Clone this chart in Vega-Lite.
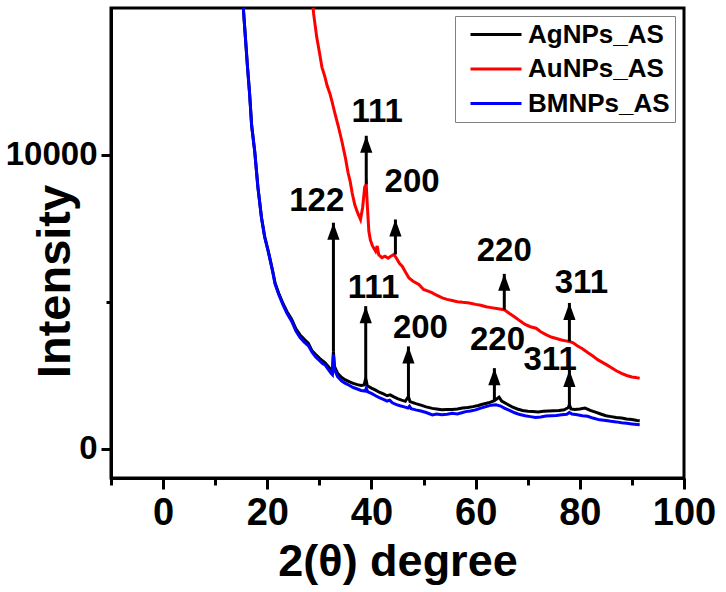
{
  "$schema": "https://vega.github.io/schema/vega-lite/v6.json",
  "description": "XRD patterns of AgNPs_AS, AuNPs_AS and BMNPs_AS with indexed peaks",
  "autosize": {"type": "none"},
  "padding": {"left": 111, "top": 8, "right": 42, "bottom": 114},
  "width": 573,
  "height": 470,
  "background": "white",
  "config": {
    "view": {"stroke": "black", "strokeWidth": 3},
    "axis": {
      "grid": false,
      "domainColor": "black",
      "domainWidth": 3,
      "tickColor": "black",
      "tickWidth": 3,
      "labelFont": "Liberation Sans",
      "labelFontWeight": "bold",
      "labelFontSize": 34,
      "labelColor": "black",
      "titleFont": "Liberation Sans",
      "titleFontWeight": "bold",
      "titleFontSize": 45,
      "titleColor": "black"
    }
  },
  "datasets": {
    "spectra": [
      {"t": 15.0, "I": 16200, "s": "AgNPs_AS"}, {"t": 15.4, "I": 15000, "s": "AgNPs_AS"}, {"t": 15.8, "I": 14000, "s": "AgNPs_AS"},
      {"t": 16.2, "I": 13000, "s": "AgNPs_AS"}, {"t": 16.6, "I": 12100, "s": "AgNPs_AS"}, {"t": 17.0, "I": 11000, "s": "AgNPs_AS"},
      {"t": 17.6, "I": 10100, "s": "AgNPs_AS"}, {"t": 18.2, "I": 8900, "s": "AgNPs_AS"}, {"t": 18.9, "I": 7850, "s": "AgNPs_AS"},
      {"t": 19.5, "I": 7220, "s": "AgNPs_AS"}, {"t": 20.2, "I": 6720, "s": "AgNPs_AS"}, {"t": 21.0, "I": 6080, "s": "AgNPs_AS"},
      {"t": 21.5, "I": 5640, "s": "AgNPs_AS"}, {"t": 22.2, "I": 5290, "s": "AgNPs_AS"}, {"t": 23.0, "I": 4950, "s": "AgNPs_AS"},
      {"t": 23.8, "I": 4660, "s": "AgNPs_AS"}, {"t": 24.7, "I": 4400, "s": "AgNPs_AS"}, {"t": 25.5, "I": 4080, "s": "AgNPs_AS"},
      {"t": 26.3, "I": 3870, "s": "AgNPs_AS"}, {"t": 27.1, "I": 3720, "s": "AgNPs_AS"}, {"t": 27.9, "I": 3580, "s": "AgNPs_AS"},
      {"t": 28.6, "I": 3330, "s": "AgNPs_AS"}, {"t": 29.3, "I": 3200, "s": "AgNPs_AS"}, {"t": 30.0, "I": 3080, "s": "AgNPs_AS"},
      {"t": 30.6, "I": 2990, "s": "AgNPs_AS"}, {"t": 31.1, "I": 2920, "s": "AgNPs_AS"}, {"t": 31.7, "I": 2800, "s": "AgNPs_AS"},
      {"t": 32.3, "I": 2660, "s": "AgNPs_AS"}, {"t": 32.5, "I": 2620, "s": "AgNPs_AS"}, {"t": 32.7, "I": 3310, "s": "AgNPs_AS"},
      {"t": 32.9, "I": 2800, "s": "AgNPs_AS"}, {"t": 33.5, "I": 2560, "s": "AgNPs_AS"}, {"t": 34.3, "I": 2420, "s": "AgNPs_AS"},
      {"t": 35.0, "I": 2340, "s": "AgNPs_AS"}, {"t": 35.8, "I": 2270, "s": "AgNPs_AS"}, {"t": 36.5, "I": 2220, "s": "AgNPs_AS"},
      {"t": 37.3, "I": 2180, "s": "AgNPs_AS"}, {"t": 38.0, "I": 2150, "s": "AgNPs_AS"}, {"t": 38.6, "I": 2170, "s": "AgNPs_AS"},
      {"t": 38.9, "I": 2400, "s": "AgNPs_AS"}, {"t": 39.2, "I": 2140, "s": "AgNPs_AS"}, {"t": 40.0, "I": 2060, "s": "AgNPs_AS"},
      {"t": 40.8, "I": 1990, "s": "AgNPs_AS"}, {"t": 41.5, "I": 1920, "s": "AgNPs_AS"}, {"t": 42.3, "I": 1860, "s": "AgNPs_AS"},
      {"t": 43.0, "I": 1800, "s": "AgNPs_AS"}, {"t": 43.6, "I": 1830, "s": "AgNPs_AS"}, {"t": 44.3, "I": 1760, "s": "AgNPs_AS"},
      {"t": 45.0, "I": 1700, "s": "AgNPs_AS"}, {"t": 45.8, "I": 1650, "s": "AgNPs_AS"}, {"t": 46.5, "I": 1610, "s": "AgNPs_AS"},
      {"t": 47.1, "I": 1775, "s": "AgNPs_AS"}, {"t": 47.4, "I": 1600, "s": "AgNPs_AS"}, {"t": 48.5, "I": 1530, "s": "AgNPs_AS"},
      {"t": 49.5, "I": 1480, "s": "AgNPs_AS"}, {"t": 50.5, "I": 1420, "s": "AgNPs_AS"}, {"t": 51.7, "I": 1370, "s": "AgNPs_AS"},
      {"t": 52.5, "I": 1350, "s": "AgNPs_AS"}, {"t": 53.5, "I": 1320, "s": "AgNPs_AS"}, {"t": 54.5, "I": 1330, "s": "AgNPs_AS"},
      {"t": 55.5, "I": 1330, "s": "AgNPs_AS"}, {"t": 56.5, "I": 1350, "s": "AgNPs_AS"}, {"t": 57.5, "I": 1380, "s": "AgNPs_AS"},
      {"t": 58.5, "I": 1400, "s": "AgNPs_AS"}, {"t": 59.5, "I": 1430, "s": "AgNPs_AS"}, {"t": 60.5, "I": 1470, "s": "AgNPs_AS"},
      {"t": 61.5, "I": 1520, "s": "AgNPs_AS"}, {"t": 62.5, "I": 1560, "s": "AgNPs_AS"}, {"t": 63.6, "I": 1630, "s": "AgNPs_AS"},
      {"t": 64.5, "I": 1750, "s": "AgNPs_AS"}, {"t": 65.0, "I": 1620, "s": "AgNPs_AS"}, {"t": 66.0, "I": 1520, "s": "AgNPs_AS"},
      {"t": 67.0, "I": 1420, "s": "AgNPs_AS"}, {"t": 68.0, "I": 1350, "s": "AgNPs_AS"}, {"t": 69.0, "I": 1300, "s": "AgNPs_AS"},
      {"t": 70.0, "I": 1270, "s": "AgNPs_AS"}, {"t": 71.0, "I": 1260, "s": "AgNPs_AS"}, {"t": 72.0, "I": 1250, "s": "AgNPs_AS"},
      {"t": 73.0, "I": 1270, "s": "AgNPs_AS"}, {"t": 74.0, "I": 1280, "s": "AgNPs_AS"}, {"t": 75.0, "I": 1290, "s": "AgNPs_AS"},
      {"t": 76.0, "I": 1300, "s": "AgNPs_AS"}, {"t": 77.0, "I": 1320, "s": "AgNPs_AS"}, {"t": 77.8, "I": 1400, "s": "AgNPs_AS"},
      {"t": 78.0, "I": 1500, "s": "AgNPs_AS"}, {"t": 78.3, "I": 1350, "s": "AgNPs_AS"}, {"t": 79.0, "I": 1330, "s": "AgNPs_AS"},
      {"t": 80.0, "I": 1350, "s": "AgNPs_AS"}, {"t": 81.0, "I": 1380, "s": "AgNPs_AS"}, {"t": 82.0, "I": 1300, "s": "AgNPs_AS"},
      {"t": 83.0, "I": 1240, "s": "AgNPs_AS"}, {"t": 84.0, "I": 1180, "s": "AgNPs_AS"}, {"t": 85.0, "I": 1120, "s": "AgNPs_AS"},
      {"t": 86.0, "I": 1090, "s": "AgNPs_AS"}, {"t": 87.0, "I": 1060, "s": "AgNPs_AS"}, {"t": 88.0, "I": 1040, "s": "AgNPs_AS"},
      {"t": 89.0, "I": 1010, "s": "AgNPs_AS"}, {"t": 90.0, "I": 990, "s": "AgNPs_AS"}, {"t": 91.0, "I": 960, "s": "AgNPs_AS"},
      {"t": 91.5, "I": 950, "s": "AgNPs_AS"},

      {"t": 28.5, "I": 15600, "s": "AuNPs_AS"}, {"t": 28.9, "I": 14800, "s": "AuNPs_AS"}, {"t": 29.5, "I": 14000, "s": "AuNPs_AS"},
      {"t": 30.0, "I": 13500, "s": "AuNPs_AS"}, {"t": 30.5, "I": 12980, "s": "AuNPs_AS"}, {"t": 31.0, "I": 12700, "s": "AuNPs_AS"},
      {"t": 31.5, "I": 12350, "s": "AuNPs_AS"}, {"t": 32.0, "I": 12100, "s": "AuNPs_AS"}, {"t": 32.4, "I": 11840, "s": "AuNPs_AS"},
      {"t": 33.0, "I": 11400, "s": "AuNPs_AS"}, {"t": 33.6, "I": 11000, "s": "AuNPs_AS"}, {"t": 34.3, "I": 10480, "s": "AuNPs_AS"},
      {"t": 35.0, "I": 9900, "s": "AuNPs_AS"}, {"t": 35.5, "I": 9400, "s": "AuNPs_AS"}, {"t": 35.9, "I": 9110, "s": "AuNPs_AS"},
      {"t": 36.3, "I": 8700, "s": "AuNPs_AS"}, {"t": 36.8, "I": 8300, "s": "AuNPs_AS"}, {"t": 37.3, "I": 8050, "s": "AuNPs_AS"},
      {"t": 37.9, "I": 7800, "s": "AuNPs_AS"}, {"t": 38.3, "I": 8200, "s": "AuNPs_AS"}, {"t": 38.7, "I": 8900, "s": "AuNPs_AS"},
      {"t": 39.0, "I": 9000, "s": "AuNPs_AS"}, {"t": 39.2, "I": 8300, "s": "AuNPs_AS"}, {"t": 39.5, "I": 7400, "s": "AuNPs_AS"},
      {"t": 39.8, "I": 7100, "s": "AuNPs_AS"}, {"t": 40.2, "I": 6900, "s": "AuNPs_AS"}, {"t": 40.8, "I": 6720, "s": "AuNPs_AS"},
      {"t": 41.1, "I": 6900, "s": "AuNPs_AS"}, {"t": 41.4, "I": 6600, "s": "AuNPs_AS"}, {"t": 42.0, "I": 6500, "s": "AuNPs_AS"},
      {"t": 42.6, "I": 6550, "s": "AuNPs_AS"}, {"t": 43.2, "I": 6480, "s": "AuNPs_AS"}, {"t": 43.8, "I": 6560, "s": "AuNPs_AS"},
      {"t": 44.3, "I": 6610, "s": "AuNPs_AS"}, {"t": 44.8, "I": 6480, "s": "AuNPs_AS"}, {"t": 45.4, "I": 6300, "s": "AuNPs_AS"},
      {"t": 45.9, "I": 6210, "s": "AuNPs_AS"}, {"t": 46.5, "I": 6020, "s": "AuNPs_AS"}, {"t": 47.2, "I": 5810, "s": "AuNPs_AS"},
      {"t": 48.0, "I": 5700, "s": "AuNPs_AS"}, {"t": 49.1, "I": 5590, "s": "AuNPs_AS"}, {"t": 50.0, "I": 5420, "s": "AuNPs_AS"},
      {"t": 51.0, "I": 5350, "s": "AuNPs_AS"}, {"t": 51.7, "I": 5300, "s": "AuNPs_AS"}, {"t": 52.3, "I": 5240, "s": "AuNPs_AS"},
      {"t": 53.0, "I": 5180, "s": "AuNPs_AS"}, {"t": 53.6, "I": 5130, "s": "AuNPs_AS"}, {"t": 54.5, "I": 5080, "s": "AuNPs_AS"},
      {"t": 55.5, "I": 5040, "s": "AuNPs_AS"}, {"t": 56.5, "I": 5000, "s": "AuNPs_AS"}, {"t": 57.5, "I": 4980, "s": "AuNPs_AS"},
      {"t": 58.8, "I": 4960, "s": "AuNPs_AS"}, {"t": 60.0, "I": 4910, "s": "AuNPs_AS"}, {"t": 61.0, "I": 4880, "s": "AuNPs_AS"},
      {"t": 62.0, "I": 4830, "s": "AuNPs_AS"}, {"t": 63.0, "I": 4800, "s": "AuNPs_AS"}, {"t": 64.0, "I": 4770, "s": "AuNPs_AS"},
      {"t": 65.5, "I": 4730, "s": "AuNPs_AS"}, {"t": 66.5, "I": 4600, "s": "AuNPs_AS"}, {"t": 67.5, "I": 4480, "s": "AuNPs_AS"},
      {"t": 68.5, "I": 4350, "s": "AuNPs_AS"}, {"t": 69.5, "I": 4230, "s": "AuNPs_AS"}, {"t": 70.5, "I": 4150, "s": "AuNPs_AS"},
      {"t": 71.6, "I": 4100, "s": "AuNPs_AS"}, {"t": 72.5, "I": 3980, "s": "AuNPs_AS"}, {"t": 73.5, "I": 3880, "s": "AuNPs_AS"},
      {"t": 74.5, "I": 3800, "s": "AuNPs_AS"}, {"t": 75.5, "I": 3750, "s": "AuNPs_AS"}, {"t": 76.5, "I": 3700, "s": "AuNPs_AS"},
      {"t": 77.5, "I": 3660, "s": "AuNPs_AS"}, {"t": 78.0, "I": 3650, "s": "AuNPs_AS"}, {"t": 78.7, "I": 3600, "s": "AuNPs_AS"},
      {"t": 79.5, "I": 3500, "s": "AuNPs_AS"}, {"t": 80.5, "I": 3400, "s": "AuNPs_AS"}, {"t": 81.5, "I": 3270, "s": "AuNPs_AS"},
      {"t": 82.5, "I": 3150, "s": "AuNPs_AS"}, {"t": 83.5, "I": 3020, "s": "AuNPs_AS"}, {"t": 84.5, "I": 2920, "s": "AuNPs_AS"},
      {"t": 85.1, "I": 2860, "s": "AuNPs_AS"}, {"t": 86.0, "I": 2760, "s": "AuNPs_AS"}, {"t": 87.0, "I": 2650, "s": "AuNPs_AS"},
      {"t": 88.0, "I": 2560, "s": "AuNPs_AS"}, {"t": 89.0, "I": 2490, "s": "AuNPs_AS"}, {"t": 90.0, "I": 2440, "s": "AuNPs_AS"},
      {"t": 91.0, "I": 2410, "s": "AuNPs_AS"}, {"t": 91.5, "I": 2400, "s": "AuNPs_AS"},

      {"t": 15.0, "I": 16200, "s": "BMNPs_AS"}, {"t": 15.4, "I": 15000, "s": "BMNPs_AS"}, {"t": 15.8, "I": 14000, "s": "BMNPs_AS"},
      {"t": 16.2, "I": 13000, "s": "BMNPs_AS"}, {"t": 16.6, "I": 12100, "s": "BMNPs_AS"}, {"t": 17.0, "I": 11000, "s": "BMNPs_AS"},
      {"t": 17.6, "I": 10100, "s": "BMNPs_AS"}, {"t": 18.2, "I": 8900, "s": "BMNPs_AS"}, {"t": 18.9, "I": 7850, "s": "BMNPs_AS"},
      {"t": 19.5, "I": 7200, "s": "BMNPs_AS"}, {"t": 20.2, "I": 6700, "s": "BMNPs_AS"}, {"t": 21.0, "I": 6050, "s": "BMNPs_AS"},
      {"t": 21.5, "I": 5600, "s": "BMNPs_AS"}, {"t": 22.2, "I": 5250, "s": "BMNPs_AS"}, {"t": 23.0, "I": 4900, "s": "BMNPs_AS"},
      {"t": 23.8, "I": 4600, "s": "BMNPs_AS"}, {"t": 24.7, "I": 4330, "s": "BMNPs_AS"}, {"t": 25.5, "I": 4000, "s": "BMNPs_AS"},
      {"t": 26.3, "I": 3780, "s": "BMNPs_AS"}, {"t": 27.1, "I": 3620, "s": "BMNPs_AS"}, {"t": 27.9, "I": 3500, "s": "BMNPs_AS"},
      {"t": 28.6, "I": 3280, "s": "BMNPs_AS"}, {"t": 29.3, "I": 3120, "s": "BMNPs_AS"}, {"t": 30.0, "I": 3000, "s": "BMNPs_AS"},
      {"t": 30.6, "I": 2900, "s": "BMNPs_AS"}, {"t": 31.1, "I": 2850, "s": "BMNPs_AS"}, {"t": 31.7, "I": 2700, "s": "BMNPs_AS"},
      {"t": 32.3, "I": 2560, "s": "BMNPs_AS"}, {"t": 32.5, "I": 2520, "s": "BMNPs_AS"}, {"t": 32.7, "I": 3200, "s": "BMNPs_AS"},
      {"t": 32.9, "I": 2700, "s": "BMNPs_AS"}, {"t": 33.5, "I": 2450, "s": "BMNPs_AS"}, {"t": 34.3, "I": 2300, "s": "BMNPs_AS"},
      {"t": 35.0, "I": 2220, "s": "BMNPs_AS"}, {"t": 35.8, "I": 2150, "s": "BMNPs_AS"}, {"t": 36.5, "I": 2080, "s": "BMNPs_AS"},
      {"t": 37.3, "I": 2030, "s": "BMNPs_AS"}, {"t": 38.0, "I": 1980, "s": "BMNPs_AS"}, {"t": 38.8, "I": 1960, "s": "BMNPs_AS"},
      {"t": 39.0, "I": 2050, "s": "BMNPs_AS"}, {"t": 39.3, "I": 1930, "s": "BMNPs_AS"}, {"t": 40.0, "I": 1880, "s": "BMNPs_AS"},
      {"t": 40.8, "I": 1800, "s": "BMNPs_AS"}, {"t": 41.5, "I": 1740, "s": "BMNPs_AS"}, {"t": 42.3, "I": 1680, "s": "BMNPs_AS"},
      {"t": 43.0, "I": 1620, "s": "BMNPs_AS"}, {"t": 43.5, "I": 1650, "s": "BMNPs_AS"}, {"t": 44.0, "I": 1560, "s": "BMNPs_AS"},
      {"t": 44.8, "I": 1500, "s": "BMNPs_AS"}, {"t": 45.5, "I": 1460, "s": "BMNPs_AS"}, {"t": 46.3, "I": 1420, "s": "BMNPs_AS"},
      {"t": 47.0, "I": 1380, "s": "BMNPs_AS"}, {"t": 47.3, "I": 1440, "s": "BMNPs_AS"}, {"t": 47.6, "I": 1360, "s": "BMNPs_AS"},
      {"t": 48.5, "I": 1320, "s": "BMNPs_AS"}, {"t": 49.5, "I": 1280, "s": "BMNPs_AS"}, {"t": 50.5, "I": 1230, "s": "BMNPs_AS"},
      {"t": 51.7, "I": 1150, "s": "BMNPs_AS"}, {"t": 52.5, "I": 1180, "s": "BMNPs_AS"}, {"t": 53.5, "I": 1150, "s": "BMNPs_AS"},
      {"t": 54.5, "I": 1170, "s": "BMNPs_AS"}, {"t": 55.5, "I": 1200, "s": "BMNPs_AS"}, {"t": 56.5, "I": 1180, "s": "BMNPs_AS"},
      {"t": 57.5, "I": 1230, "s": "BMNPs_AS"}, {"t": 58.1, "I": 1260, "s": "BMNPs_AS"}, {"t": 59.0, "I": 1280, "s": "BMNPs_AS"},
      {"t": 60.0, "I": 1320, "s": "BMNPs_AS"}, {"t": 61.0, "I": 1380, "s": "BMNPs_AS"}, {"t": 62.0, "I": 1430, "s": "BMNPs_AS"},
      {"t": 63.0, "I": 1480, "s": "BMNPs_AS"}, {"t": 63.9, "I": 1490, "s": "BMNPs_AS"}, {"t": 64.8, "I": 1450, "s": "BMNPs_AS"},
      {"t": 65.5, "I": 1380, "s": "BMNPs_AS"}, {"t": 66.5, "I": 1300, "s": "BMNPs_AS"}, {"t": 67.5, "I": 1220, "s": "BMNPs_AS"},
      {"t": 68.5, "I": 1160, "s": "BMNPs_AS"}, {"t": 69.5, "I": 1120, "s": "BMNPs_AS"}, {"t": 70.5, "I": 1090, "s": "BMNPs_AS"},
      {"t": 71.5, "I": 1060, "s": "BMNPs_AS"}, {"t": 72.5, "I": 1080, "s": "BMNPs_AS"}, {"t": 73.5, "I": 1110, "s": "BMNPs_AS"},
      {"t": 74.5, "I": 1120, "s": "BMNPs_AS"}, {"t": 75.5, "I": 1130, "s": "BMNPs_AS"}, {"t": 76.5, "I": 1150, "s": "BMNPs_AS"},
      {"t": 77.5, "I": 1170, "s": "BMNPs_AS"}, {"t": 78.0, "I": 1230, "s": "BMNPs_AS"}, {"t": 78.5, "I": 1180, "s": "BMNPs_AS"},
      {"t": 79.5, "I": 1150, "s": "BMNPs_AS"}, {"t": 80.5, "I": 1120, "s": "BMNPs_AS"}, {"t": 81.5, "I": 1100, "s": "BMNPs_AS"},
      {"t": 82.5, "I": 1040, "s": "BMNPs_AS"}, {"t": 83.8, "I": 980, "s": "BMNPs_AS"}, {"t": 85.0, "I": 960, "s": "BMNPs_AS"},
      {"t": 86.0, "I": 930, "s": "BMNPs_AS"}, {"t": 87.0, "I": 910, "s": "BMNPs_AS"}, {"t": 88.0, "I": 880, "s": "BMNPs_AS"},
      {"t": 89.0, "I": 860, "s": "BMNPs_AS"}, {"t": 90.0, "I": 840, "s": "BMNPs_AS"}, {"t": 91.0, "I": 820, "s": "BMNPs_AS"},
      {"t": 91.5, "I": 810, "s": "BMNPs_AS"}
    ],
    "peaks": [
      {"t": 32.7, "base": 3310, "tip": 7690, "label": "122", "lt": 29.5, "lI": 8420},
      {"t": 39.0, "base": 9000, "tip": 10650, "label": "111", "lt": 41.1, "lI": 11470},
      {"t": 44.6, "base": 6610, "tip": 7800, "label": "200", "lt": 47.8, "lI": 9080},
      {"t": 65.5, "base": 4730, "tip": 5950, "label": "220", "lt": 65.5, "lI": 6720},
      {"t": 78.0, "base": 3650, "tip": 4960, "label": "311", "lt": 80.3, "lI": 5640},
      {"t": 38.9, "base": 2400, "tip": 4850, "label": "111", "lt": 40.4, "lI": 5470},
      {"t": 47.1, "base": 1775, "tip": 3480, "label": "200", "lt": 49.4, "lI": 4100},
      {"t": 63.6, "base": 1630, "tip": 2740, "label": "220", "lt": 64.2, "lI": 3710},
      {"t": 78.0, "base": 1500, "tip": 2680, "label": "311", "lt": 74.3, "lI": 3030}
    ]
  },
  "layer": [
    {
      "data": {"name": "spectra"},
      "mark": {"type": "line", "strokeWidth": 3, "clip": true},
      "encoding": {
        "x": {
          "field": "t", "type": "quantitative",
          "scale": {"domain": [-10, 100], "nice": false, "zero": false},
          "axis": {
            "title": "2(θ) degree",
            "values": [-10, 0, 10, 20, 30, 40, 50, 60, 70, 80, 90, 100],
            "labelExpr": "datum.value % 20 === 0 ? datum.label : ''",
            "tickSize": {"condition": {"test": "datum.value % 20 === 0", "value": 11}, "value": 7},
            "labelFontSize": 38,
            "labelPadding": 5,
            "labelFlush": false,
            "labelBound": false,
            "labelOverlap": false,
            "titleBaseline": "alphabetic",
            "titleY": 97
          }
        },
        "y": {
          "field": "I", "type": "quantitative",
          "scale": {"domain": [-1000, 15000], "nice": false, "zero": false},
          "axis": {
            "title": "Intensity",
            "values": [0, 5000, 10000],
            "format": "d",
            "labelExpr": "datum.value === 5000 ? '' : datum.label",
            "tickSize": {"condition": {"test": "datum.value === 5000", "value": 5}, "value": 10},
            "labelFontSize": 33,
            "labelPadding": 4,
            "labelFlush": false,
            "titleFontSize": 47,
            "titleAngle": -90,
            "titleAlign": "center",
            "titleBaseline": "middle",
            "titleX": -56,
            "titleY": 273
          }
        },
        "color": {
          "field": "s", "type": "nominal",
          "scale": {"domain": ["AgNPs_AS", "AuNPs_AS", "BMNPs_AS"], "range": ["#000000", "#ff0000", "#0000ff"]},
          "legend": {
            "title": null,
            "orient": "none",
            "legendX": 344,
            "legendY": 8,
            "padding": 5,
            "strokeColor": "#808080",
            "fillColor": "white",
            "symbolType": "M-0.25,0H4",
            "symbolSize": 576,
            "symbolStrokeWidth": 3,
            "labelOffset": 41,
            "labelFont": "Liberation Sans",
            "labelFontWeight": "bold",
            "labelFontSize": 26,
            "labelColor": "black",
            "rowPadding": 7.5
          }
        }
      }
    },
    {
      "data": {"name": "peaks"},
      "mark": {"type": "rule", "color": "black", "strokeWidth": 3},
      "encoding": {
        "x": {"field": "t", "type": "quantitative"},
        "y": {"field": "base", "type": "quantitative"},
        "y2": {"field": "tip"}
      }
    },
    {
      "data": {"name": "peaks"},
      "mark": {"type": "point", "filled": true, "opacity": 1, "color": "black", "shape": "M0,0L0.36,1L-0.36,1Z", "size": 1156},
      "encoding": {
        "x": {"field": "t", "type": "quantitative"},
        "y": {"field": "tip", "type": "quantitative"}
      }
    },
    {
      "data": {"name": "peaks"},
      "mark": {"type": "text", "font": "Liberation Sans", "fontWeight": "bold", "fontSize": 33, "color": "black", "align": "center", "baseline": "middle"},
      "encoding": {
        "x": {"field": "lt", "type": "quantitative"},
        "y": {"field": "lI", "type": "quantitative"},
        "text": {"field": "label"}
      }
    }
  ]
}
